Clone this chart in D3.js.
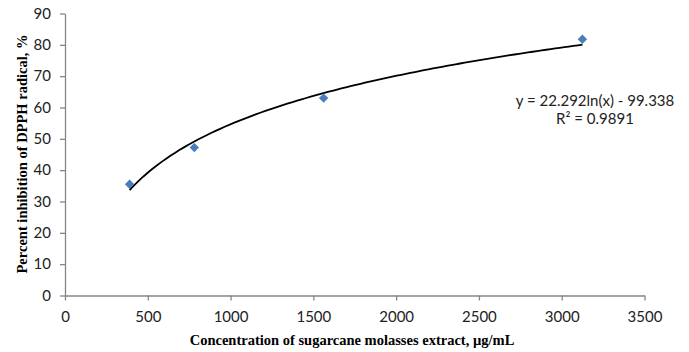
<!DOCTYPE html>
<html lang="en">
<head>
<meta charset="UTF-8">
<title>DPPH inhibition</title>
<style>
  body{margin:0;background:#fff;}
  svg{display:block;}
  .tick text{font-family:Lato,"Open Sans",sans-serif;font-size:15px;fill:#222;}
</style>
</head>
<body>
<svg width="689" height="352"></svg>
<script src="https://cdnjs.cloudflare.com/ajax/libs/d3/7.8.5/d3.min.js"></script>
<script>
// data
var concentration = [390, 781, 1562, 3125];
var inhibition = [35.5, 47.2, 63.0, 81.8];
var xTicks = [0, 500, 1000, 1500, 2000, 2500, 3000, 3500];
var yTicks = [0, 10, 20, 30, 40, 50, 60, 70, 80, 90];
// log trendline coefficients shown on the chart: y = a*ln(x) + b
var fitA = 22.292, fitB = -99.338;
var fitLabel = ["y = 22.292ln(x) - 99.338", "R² = 0.9891"];

var svg = d3.select("svg");
var plotL = 65, plotT = 13.5, plotR = 644.5, plotB = 295.5;

var x = d3.scaleLinear().domain([0, 3500]).range([plotL, plotR]);
var y = d3.scaleLinear().domain([0, 90]).range([plotB, plotT]);

// axes
var gx = svg.append("g").attr("transform", "translate(0," + plotB + ")")
  .call(d3.axisBottom(x).tickValues(xTicks).tickFormat(d3.format("d")).tickSize(5).tickPadding(9).tickSizeOuter(0));
var gy = svg.append("g").attr("transform", "translate(" + plotL + ",0)")
  .call(d3.axisLeft(y).tickValues(yTicks).tickFormat(d3.format("d")).tickSize(5).tickPadding(9).tickSizeOuter(0));
[gx, gy].forEach(function(g){
  g.select(".domain").attr("stroke", "#868686").attr("stroke-width", 1.3);
  g.selectAll(".tick line").attr("stroke", "#868686").attr("stroke-width", 1.3);
});
gx.selectAll(".tick text").attr("dy", "0.85em");

// trendline over the data range, from the fitted coefficients
var fitPts = d3.range(0, 101).map(function(i){
  var xv = concentration[0] + (concentration[3] - concentration[0]) * i / 100;
  return [xv, fitA * Math.log(xv) + fitB];
});
svg.append("path")
  .attr("d", d3.line().x(function(d){return x(d[0])}).y(function(d){return y(d[1])}).curve(d3.curveLinear)(fitPts))
  .attr("fill", "none").attr("stroke", "#000").attr("stroke-width", 1.8);

// markers
svg.selectAll(".pt").data(concentration).enter().append("path")
  .attr("class", "pt")
  .attr("d", d3.symbol().type(d3.symbolSquare).size(44))
  .attr("transform", function(d, i){return "translate(" + x(d) + "," + y(inhibition[i]) + ") rotate(45)"})
  .attr("fill", "#4a7ebb");

// equation label
svg.selectAll(".eq").data(fitLabel).enter().append("text")
  .attr("class", "eq")
  .attr("x", 595).attr("y", function(d, i){return 106 + i * 18})
  .attr("text-anchor", "middle")
  .attr("font-family", "Lato, 'Open Sans', sans-serif").attr("font-size", "15px")
  .attr("fill", "#222")
  .text(function(d){return d});

// axis titles
svg.append("text")
  .attr("x", 352).attr("y", 345)
  .attr("text-anchor", "middle")
  .attr("font-family", "'Liberation Serif', 'Times New Roman', serif")
  .attr("font-weight", "bold").attr("font-size", "14.5px")
  .text("Concentration of sugarcane molasses extract, µg/mL");
svg.append("text")
  .attr("transform", "translate(22,154) rotate(-90)")
  .attr("text-anchor", "middle")
  .attr("dy", "0.35em")
  .attr("font-family", "'Liberation Serif', 'Times New Roman', serif")
  .attr("font-weight", "bold").attr("font-size", "14.5px")
  .text("Percent inhibition  of DPPH radical, %");
</script>
</body>
</html>
